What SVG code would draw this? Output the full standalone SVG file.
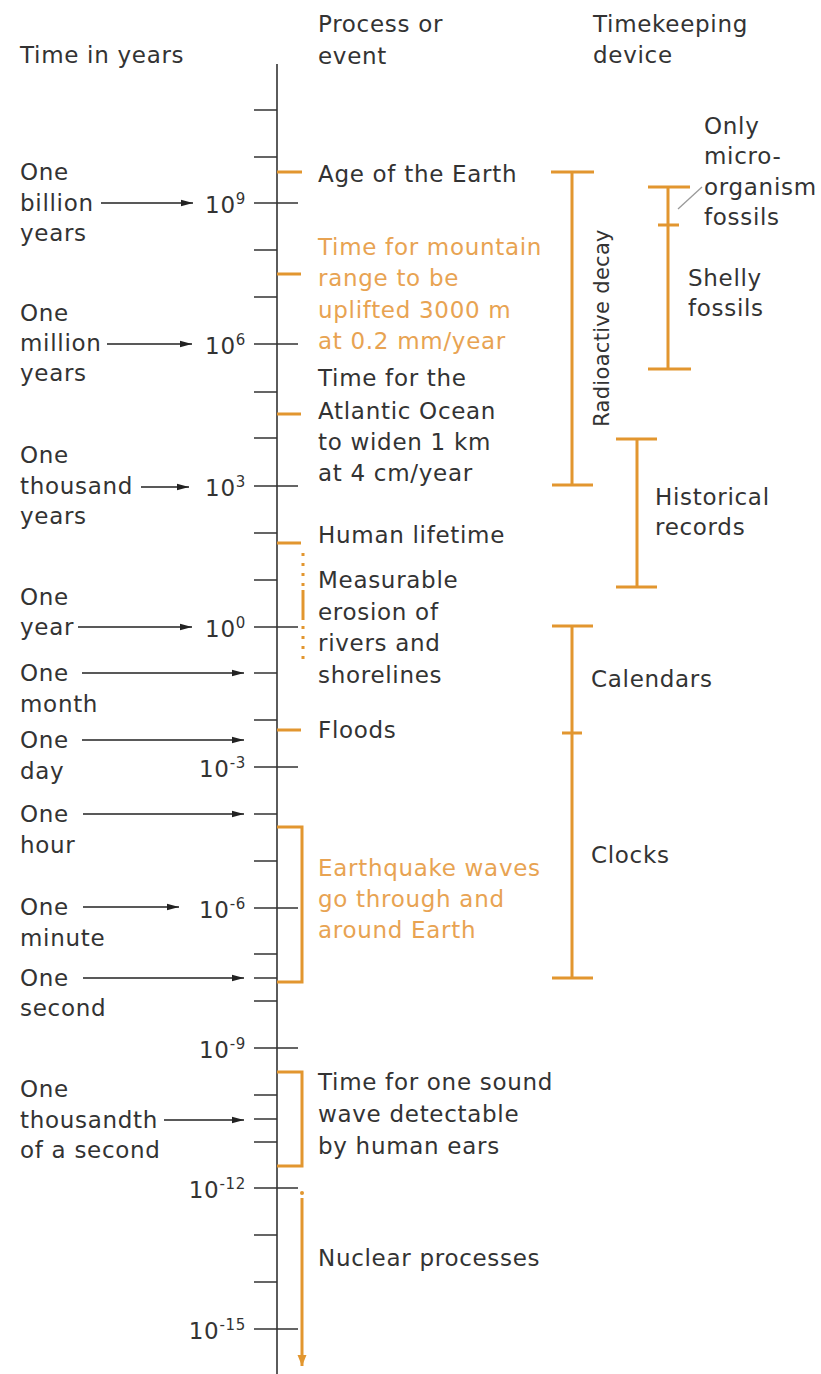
<svg xmlns="http://www.w3.org/2000/svg" width="821" height="1374" viewBox="0 0 821 1374">
<defs>
<style>
text{font-family:"DejaVu Sans","Liberation Sans",sans-serif;font-size:23px;fill:#333;letter-spacing:0.7px}
.o{fill:#E8A352}
.sup{font-size:15px}
.ax{stroke:#333;stroke-width:1.6;fill:none}
.ar{stroke:#222;stroke-width:1.4;fill:none;marker-end:url(#ah)}
.ob{stroke:#E2962F;stroke-width:3;fill:none}
.gl{stroke:#999;stroke-width:1.3;fill:none}
</style>
<marker id="ah" markerUnits="userSpaceOnUse" markerWidth="12" markerHeight="8" refX="12" refY="4" orient="auto">
<path d="M0,0.8 L12,4 L0,7.2 Z" fill="#222"/>
</marker>
<marker id="oh" markerUnits="userSpaceOnUse" markerWidth="11" markerHeight="10" refX="11" refY="5" orient="auto">
<path d="M0,0.5 L11,5 L0,9.5 Z" fill="#E2962F"/>
</marker>
</defs>
<rect width="821" height="1374" fill="#fff"/>

<g id="headers">
<text x="20" y="63">Time in years</text>
<text x="318" y="32">Process or</text>
<text x="318" y="64">event</text>
<text x="593" y="32">Timekeeping</text>
<text x="593" y="63">device</text>
</g>

<g id="axis">
<path class="ax" d="M277,64 V1374"/>
<path class="ax" d="M254,203 H298 M254,344 H298 M254,486 H298 M254,627 H298 M254,767 H298 M254,908 H298 M254,1048 H298 M254,1188 H298 M254,1329 H298"/>
<path class="ax" d="M254,110 H277 M254,157 H277 M254,250 H277 M254,297 H277 M254,392 H277 M254,438 H277 M254,533 H277 M254,580 H277 M254,673 H277 M254,720 H277 M254,814 H277 M254,861 H277 M254,954 H277 M254,978 H277 M254,1001 H277 M254,1095 H277 M254,1119 H277 M254,1142 H277 M254,1235 H277 M254,1282 H277"/>
</g>

<g id="scale-labels">
<text x="246" y="213" text-anchor="end">10<tspan class="sup" dy="-9">9</tspan></text>
<text x="246" y="354" text-anchor="end">10<tspan class="sup" dy="-9">6</tspan></text>
<text x="246" y="496" text-anchor="end">10<tspan class="sup" dy="-9">3</tspan></text>
<text x="246" y="637" text-anchor="end">10<tspan class="sup" dy="-9">0</tspan></text>
<text x="246" y="777" text-anchor="end">10<tspan class="sup" dy="-9">-3</tspan></text>
<text x="246" y="918" text-anchor="end">10<tspan class="sup" dy="-9">-6</tspan></text>
<text x="246" y="1058" text-anchor="end">10<tspan class="sup" dy="-9">-9</tspan></text>
<text x="246" y="1198" text-anchor="end">10<tspan class="sup" dy="-9">-12</tspan></text>
<text x="246" y="1339" text-anchor="end">10<tspan class="sup" dy="-9">-15</tspan></text>
</g>

<g id="time-labels">
<text x="20" y="180">One</text><text x="20" y="211">billion</text><text x="20" y="241">years</text>
<text x="20" y="321">One</text><text x="20" y="351">million</text><text x="20" y="381">years</text>
<text x="20" y="463">One</text><text x="20" y="494">thousand</text><text x="20" y="524">years</text>
<text x="20" y="605">One</text><text x="20" y="635">year</text>
<text x="20" y="681">One</text><text x="20" y="712">month</text>
<text x="20" y="748">One</text><text x="20" y="779">day</text>
<text x="20" y="822">One</text><text x="20" y="853">hour</text>
<text x="20" y="915">One</text><text x="20" y="946">minute</text>
<text x="20" y="986">One</text><text x="20" y="1016">second</text>
<text x="20" y="1097">One</text><text x="20" y="1128">thousandth</text><text x="20" y="1158">of a second</text>
</g>

<g id="connectors">
<line class="ar" x1="101" y1="203" x2="193" y2="203"/>
<line class="ar" x1="107" y1="344" x2="192" y2="344"/>
<line class="ar" x1="141" y1="487" x2="189" y2="487"/>
<line class="ar" x1="78" y1="627" x2="192" y2="627"/>
<line class="ar" x1="82" y1="673" x2="244" y2="673"/>
<line class="ar" x1="82" y1="740" x2="244" y2="740"/>
<line class="ar" x1="83" y1="814" x2="244" y2="814"/>
<line class="ar" x1="83" y1="907" x2="179" y2="907"/>
<line class="ar" x1="83" y1="978" x2="244" y2="978"/>
<line class="ar" x1="164" y1="1120" x2="244" y2="1120"/>
<line class="gl" x1="678" y1="209" x2="702" y2="187"/>
</g>

<g id="process-marks">
<path class="ob" d="M277,172 H302 M277,274 H301 M277,414 H301 M277,543 H301 M277,730 H301"/>
<path d="M303,553 V586" stroke="#E2962F" stroke-width="3" stroke-dasharray="3,7" fill="none"/>
<path d="M303,590 V620" stroke="#E2962F" stroke-width="3" fill="none"/>
<path d="M303,626 V666" stroke="#E2962F" stroke-width="3" stroke-dasharray="3,7" fill="none"/>
<path class="ob" d="M277,827 H302 V982 H277"/>
<path class="ob" d="M277,1072 H302 V1166 H277"/>
<circle cx="302" cy="1193" r="2" fill="#E2962F"/>
<line class="ob" x1="302" y1="1198" x2="302" y2="1366" marker-end="url(#oh)"/>
</g>

<g id="process-labels">
<text x="318" y="182">Age of the Earth</text>
<text class="o" x="318" y="255">Time for mountain</text>
<text class="o" x="318" y="286">range to be</text>
<text class="o" x="318" y="318">uplifted 3000 m</text>
<text class="o" x="318" y="349">at 0.2 mm/year</text>
<text x="318" y="386">Time for the</text>
<text x="318" y="419">Atlantic Ocean</text>
<text x="318" y="450">to widen 1 km</text>
<text x="318" y="481">at 4 cm/year</text>
<text x="318" y="543">Human lifetime</text>
<text x="318" y="588">Measurable</text>
<text x="318" y="620">erosion of</text>
<text x="318" y="651">rivers and</text>
<text x="318" y="683">shorelines</text>
<text x="318" y="738">Floods</text>
<text class="o" x="318" y="876">Earthquake waves</text>
<text class="o" x="318" y="907">go through and</text>
<text class="o" x="318" y="938">around Earth</text>
<text x="318" y="1090">Time for one sound</text>
<text x="318" y="1122">wave detectable</text>
<text x="318" y="1154">by human ears</text>
<text x="318" y="1266">Nuclear processes</text>
</g>

<g id="radioactive-decay">
<path class="ob" d="M551,172 H594 M572,172 V485 M552,485 H593"/>
<text transform="translate(609,328) rotate(-90)" text-anchor="middle" style="font-size:21px;letter-spacing:0.3px">Radioactive decay</text>
</g>

<g id="fossils">
<path class="ob" d="M648,187 H690 M668,187 V369 M648,369 H691 M658,225 H679"/>
<text x="704" y="134">Only</text>
<text x="704" y="164">micro-</text>
<text x="704" y="195">organism</text>
<text x="704" y="225">fossils</text>
<text x="688" y="286">Shelly</text>
<text x="688" y="316">fossils</text>
</g>

<g id="historical-records">
<path class="ob" d="M616,439 H657 M637,439 V587 M616,587 H657"/>
<text x="655" y="505">Historical</text>
<text x="655" y="535">records</text>
</g>

<g id="calendars-clocks">
<path class="ob" d="M552,626 H593 M572,626 V978 M552,978 H593 M562,733 H582"/>
<text x="591" y="687">Calendars</text>
<text x="591" y="863">Clocks</text>
</g>
</svg>
